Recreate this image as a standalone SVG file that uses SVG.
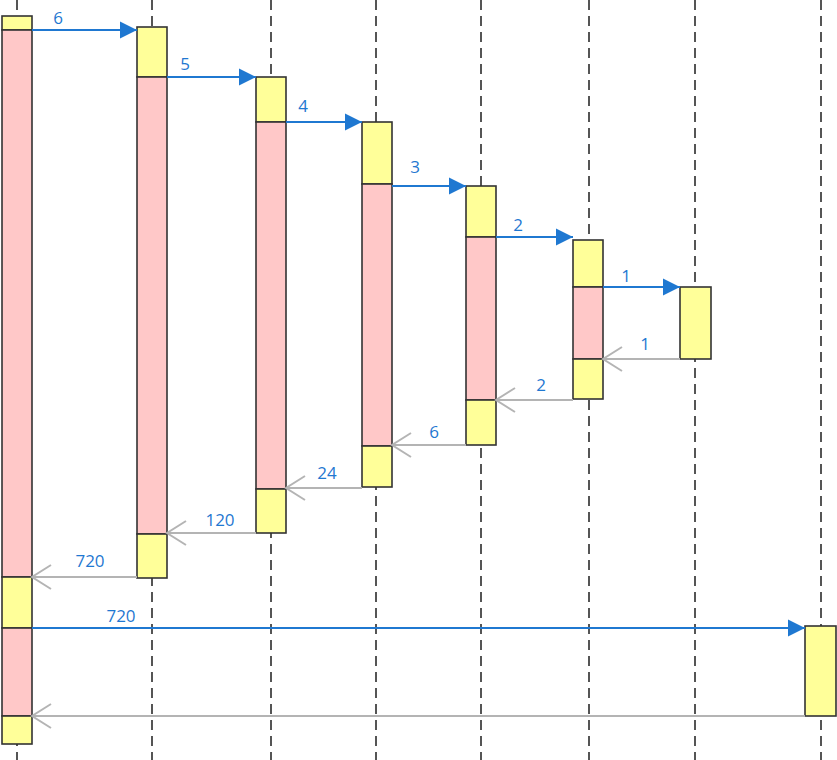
<svg xmlns="http://www.w3.org/2000/svg" width="837" height="760" viewBox="0 0 837 760">
<style>
.life{stroke:#555;stroke-width:2;stroke-dasharray:10 6;fill:none}
.y{fill:#ffff99;stroke:#333;stroke-width:1.6}
.p{fill:#ffc8c8;stroke:#333;stroke-width:1.6}
.call{stroke:#1f78d1;stroke-width:2;fill:none;marker-end:url(#tri)}
.ret{stroke:#b4b4b4;stroke-width:2;fill:none;marker-end:url(#open)}
.lbl{font-family:"Open Sans","Noto Sans",sans-serif;font-size:17px;fill:#1f78d1;text-anchor:middle}
</style>
<defs>
<marker id="tri" markerUnits="userSpaceOnUse" markerWidth="18" markerHeight="18" viewBox="0 0 18 18" refX="17" refY="9" orient="auto">
<path d="M0,0.5 L17,9 L0,17.5 z" fill="#1f78d1"/>
</marker>
<marker id="open" markerUnits="userSpaceOnUse" markerWidth="22" markerHeight="28" viewBox="0 0 22 28" refX="20" refY="14" orient="auto">
<path d="M1,2 L20,14 L1,26" fill="none" stroke="#b4b4b4" stroke-width="2"/>
</marker>
</defs>
<rect width="837" height="760" fill="#fff"/>
<g id="lifelines">
<line class="life" x1="17" y1="0" x2="17" y2="760"/>
<line class="life" x1="152" y1="0" x2="152" y2="760"/>
<line class="life" x1="271" y1="0" x2="271" y2="760"/>
<line class="life" x1="376" y1="0" x2="376" y2="760"/>
<line class="life" x1="481" y1="0" x2="481" y2="760"/>
<line class="life" x1="589" y1="0" x2="589" y2="760"/>
<line class="life" x1="695" y1="0" x2="695" y2="760"/>
<line class="life" x1="821" y1="0" x2="821" y2="760"/>
</g>
<g id="n0">
<rect class="y" x="2" y="16" width="30" height="14"/>
<rect class="p" x="2" y="30" width="30" height="547"/>
<rect class="y" x="2" y="577" width="30" height="51"/>
<rect class="p" x="2" y="628" width="30" height="88"/>
<rect class="y" x="2" y="716" width="30" height="28"/>
</g>
<g id="n1">
<rect class="y" x="137" y="27" width="30" height="50"/>
<rect class="p" x="137" y="77" width="30" height="457"/>
<rect class="y" x="137" y="534" width="30" height="44"/>
</g>
<g id="n2">
<rect class="y" x="256" y="77" width="30" height="45"/>
<rect class="p" x="256" y="122" width="30" height="367"/>
<rect class="y" x="256" y="489" width="30" height="44"/>
</g>
<g id="n3">
<rect class="y" x="362" y="122" width="30" height="62"/>
<rect class="p" x="362" y="184" width="30" height="262"/>
<rect class="y" x="362" y="446" width="30" height="41"/>
</g>
<g id="n4">
<rect class="y" x="466" y="186" width="30" height="51"/>
<rect class="p" x="466" y="237" width="30" height="163"/>
<rect class="y" x="466" y="400" width="30" height="45"/>
</g>
<g id="n5">
<rect class="y" x="573" y="240" width="30" height="47"/>
<rect class="p" x="573" y="287" width="30" height="72"/>
<rect class="y" x="573" y="359" width="30" height="40"/>
</g>
<g id="n6">
<rect class="y" x="680" y="287" width="31" height="72"/>
</g>
<g id="n7">
<rect class="y" x="805" y="626" width="31" height="90"/>
</g>
<g id="connectors">
<line class="call" x1="32" y1="30" x2="137" y2="30"/>
<line class="call" x1="167" y1="77" x2="256" y2="77"/>
<line class="call" x1="286" y1="122" x2="362" y2="122"/>
<line class="call" x1="392" y1="186" x2="466" y2="186"/>
<line class="call" x1="496" y1="237" x2="573" y2="237"/>
<line class="call" x1="603" y1="287" x2="680" y2="287"/>
<line class="call" x1="32" y1="628" x2="805" y2="628"/>
<line class="ret" x1="680" y1="359" x2="603" y2="359"/>
<line class="ret" x1="573" y1="400" x2="496" y2="400"/>
<line class="ret" x1="466" y1="445" x2="392" y2="445"/>
<line class="ret" x1="362" y1="488" x2="286" y2="488"/>
<line class="ret" x1="256" y1="533" x2="167" y2="533"/>
<line class="ret" x1="137" y1="577" x2="32" y2="577"/>
<line class="ret" x1="805" y1="716" x2="32" y2="716"/>
<text class="lbl" x="58" y="24">6</text>
<text class="lbl" x="185" y="70">5</text>
<text class="lbl" x="303" y="112">4</text>
<text class="lbl" x="415" y="173">3</text>
<text class="lbl" x="518" y="231">2</text>
<text class="lbl" x="626" y="282">1</text>
<text class="lbl" x="645" y="350">1</text>
<text class="lbl" x="541" y="391">2</text>
<text class="lbl" x="434" y="438">6</text>
<text class="lbl" x="327" y="479">24</text>
<text class="lbl" x="220" y="526">120</text>
<text class="lbl" x="90" y="567">720</text>
<text class="lbl" x="121" y="622">720</text>
</g>
</svg>
